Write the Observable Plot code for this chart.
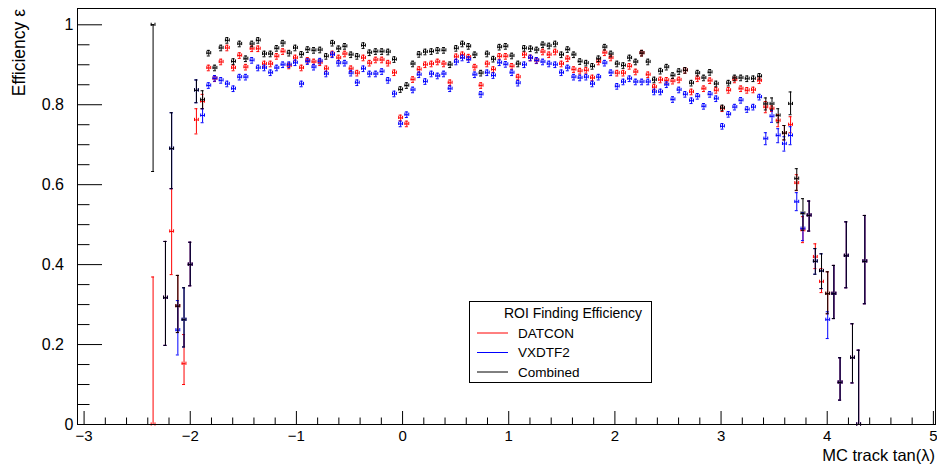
<!DOCTYPE html>
<html><head><meta charset="utf-8">
<script src="https://cdn.jsdelivr.net/npm/d3@7"></script>
<script src="https://cdn.jsdelivr.net/npm/@observablehq/plot@0.6"></script>
<style>body{margin:0;background:#fff;} svg{display:block}</style>
</head><body><div id="chart"></div>
<script>
// Histogram binning of MC track tan(lambda)
const binStart = -2.35, binWidth = 0.0583;

// Efficiencies per bin (null = empty bin)
const combined = [
 1.0, null, 0.317, 0.69, 0.296, 0.262, 0.40, 0.836, 0.8125, 0.929,
 0.892, 0.942, 0.961, 0.908, 0.952, 0.915, 0.952, 0.961, 0.927, 0.927,
 0.941, 0.954, 0.929, 0.942, 0.926, 0.938, 0.936, 0.937, 0.921, 0.954,
 0.94, 0.946, 0.925, 0.921, 0.948, 0.93, 0.933, 0.933, 0.932, 0.913,
 0.838, 0.848, 0.902, 0.926, 0.932, 0.933, 0.936, 0.936, 0.9, 0.941,
 0.952, 0.946, 0.925, 0.879, 0.927, 0.914, 0.944, 0.946, 0.922, 0.902,
 0.941, 0.94, 0.937, 0.95, 0.947, 0.952, 0.925, 0.938, 0.925, 0.908,
 0.904, 0.896, 0.915, 0.944, 0.927, 0.902, 0.898, 0.917, 0.907, 0.929,
 0.907, 0.862, 0.884, 0.894, 0.873, 0.883, 0.886, 0.854, 0.879, 0.867,
 0.881, 0.852, 0.792, 0.854, 0.867, 0.867, 0.865, 0.865, 0.871, 0.802,
 0.802, 0.773, 0.729, 0.802, 0.615, 0.528, 0.523, 0.408, 0.384, 0.327,
 0.327, 0.105, 0.422, 0.167, 0.0, 0.408
];
const datcon = [
 0.0, null, 0.317, 0.483, 0.296, 0.152, 0.40, 0.762, 0.808, 0.892,
 0.865, 0.907, 0.942, 0.892, 0.923, 0.894, 0.94, 0.94, 0.902, 0.902,
 0.921, 0.933, 0.897, 0.917, 0.892, 0.911, 0.907, 0.905, 0.89, 0.927,
 0.917, 0.927, 0.89, 0.879, 0.917, 0.904, 0.912, 0.912, 0.904, 0.88,
 0.767, 0.752, 0.863, 0.888, 0.9, 0.902, 0.907, 0.902, 0.855, 0.92,
 0.925, 0.919, 0.894, 0.848, 0.902, 0.888, 0.921, 0.921, 0.896, 0.869,
 0.925, 0.917, 0.91, 0.932, 0.925, 0.932, 0.902, 0.915, 0.888, 0.884,
 0.886, 0.867, 0.907, 0.93, 0.917, 0.879, 0.879, 0.896, 0.882, 0.929,
 0.875, 0.844, 0.862, 0.861, 0.859, 0.862, 0.886, 0.832, 0.865, 0.84,
 0.86, 0.836, 0.79, 0.836, 0.862, 0.84, 0.836, 0.837, 0.86, 0.794,
 0.79, 0.76, 0.729, 0.75, 0.604, 0.486, 0.523, 0.419, 0.357, 0.327,
 0.327, 0.105, 0.422, 0.167, 0.0, 0.408
];
const vxdtf2 = [
 null, null, 0.317, 0.69, 0.236, 0.262, 0.40, 0.836, 0.773, 0.848,
 0.866, 0.861, 0.852, 0.84, 0.869, 0.869, 0.911, 0.892, 0.892, 0.88,
 0.892, 0.90, 0.90, 0.905, 0.852, 0.908, 0.894, 0.909, 0.877, 0.925,
 0.904, 0.904, 0.879, 0.855, 0.89, 0.877, 0.877, 0.883, 0.861, 0.827,
 0.752, 0.775, 0.837, 0.875, 0.858, 0.877, 0.872, 0.877, 0.84, 0.907,
 0.917, 0.913, 0.875, 0.826, 0.88, 0.873, 0.905, 0.901, 0.88, 0.854,
 0.9, 0.917, 0.911, 0.907, 0.902, 0.9, 0.88, 0.892, 0.869, 0.867,
 0.869, 0.852, 0.869, 0.904, 0.88, 0.846, 0.857, 0.865, 0.857, 0.857,
 0.857, 0.832, 0.832, 0.85, 0.813, 0.837, 0.826, 0.81, 0.821, 0.796,
 0.826, 0.815, 0.746, 0.776, 0.794, 0.811, 0.788, 0.794, 0.819, 0.715,
 0.771, 0.723, 0.702, 0.723, 0.557, 0.49, 0.523, 0.408, 0.384, 0.262,
 0.327, 0.105, 0.422, 0.167, 0.0, 0.408
];

// Asymmetric error bar ends: [bin, low, high]
const combinedErr = [
 [0,0.633,1.0],[2,0.198,0.458],[3,0.59,0.78],[4,0.23,0.373],[5,0.194,0.342],[6,0.347,0.456],
 [7,0.805,0.862],[8,0.79,0.835],[99,0.787,0.817],[100,0.787,0.817],[101,0.755,0.79],
 [102,0.712,0.748],[103,0.775,0.832],[104,0.586,0.64],[105,0.486,0.565],[106,0.484,0.559],
 [107,0.376,0.44],[108,0.34,0.427],[109,0.277,0.382],[110,0.265,0.398],[111,0.061,0.167],
 [112,0.342,0.507],[113,0.104,0.252],[114,0,0.186],[115,0.302,0.523]
];
const datconErr = [
 [0,0,0.369],[3,0.375,0.59],[5,0.10,0.225],[7,0.727,0.79],[8,0.79,0.826],[99,0.78,0.808],
 [101,0.745,0.775],[103,0.73,0.77],[104,0.585,0.625],[105,0.455,0.52],[107,0.39,0.452],[108,0.33,0.39]
];
const vxdtf2Err = [
 [4,0.174,0.31],[8,0.755,0.79],[99,0.7,0.73],[100,0.756,0.786],[101,0.705,0.74],[102,0.684,0.72],
 [103,0.70,0.745],[104,0.535,0.58],[105,0.46,0.53],[109,0.215,0.282]
];
const defaultErr = 0.007;
const xErr = 0.018;

const seriesNames = ["DATCON", "VXDTF2", "Combined"];
const seriesColors = ["#ff0000", "#0000ff", "#000000"];

const xMajor = [-3, -2, -1, 0, 1, 2, 3, 4, 5];
const yMajor = [0, 0.2, 0.4, 0.6, 0.8, 1];

// ---- build ----
const combErrMap = new Map(combinedErr.map(d => [d[0], [d[1], d[2]]]));
function build(name, color, vals, errs) {
  const em = new Map(errs.map(d => [d[0], [d[1], d[2]]]));
  const out = [];
  vals.forEach((v, i) => {
    if (v == null) return;
    let e = em.get(i);
    if (!e && v === combined[i] && combErrMap.has(i)) e = combErrMap.get(i);
    if (!e) e = [Math.max(0, v - defaultErr), v + defaultErr];
    out.push({name, color, x: binStart + i * binWidth, y: v, lo: e[0], hi: e[1]});
  });
  return out;
}
const data = [
  build("DATCON", seriesColors[0], datcon, datconErr),
  build("VXDTF2", seriesColors[1], vxdtf2, vxdtf2Err),
  build("Combined", seriesColors[2], combined, combinedErr)
];

const W = 937, H = 464, mL = 77, mR = 2, mT = 8, mB = 40;
const xDomain = [-3.062, 5.02], yDomain = [0, 1.0408];
const pxX = (W - mL - mR) / (xDomain[1] - xDomain[0]);
const pxY = (H - mT - mB) / (yDomain[1] - yDomain[0]);
const capX = 1.5 / pxX, capY = 1.6 / pxY;

const xMinor = d3.range(-3, 5.001, 0.2).map(v => +v.toFixed(2)).filter(v => !xMajor.includes(v));
const yMinor = d3.range(0, 1.0001, 0.05).map(v => +v.toFixed(2)).filter(v => !yMajor.includes(v));

const marks = [];
for (const s of data) {
  const c = s[0] ? s[0].color : "#000";
  marks.push(
    Plot.ruleX(s, {x: "x", y1: "lo", y2: "hi", stroke: c, strokeWidth: 1}),
    Plot.ruleY(s, {y: "lo", x1: d => d.x - capX, x2: d => d.x + capX, stroke: c}),
    Plot.ruleY(s, {y: "hi", x1: d => d.x - capX, x2: d => d.x + capX, stroke: c}),
    Plot.ruleY(s, {y: "y", x1: d => d.x - xErr, x2: d => d.x + xErr, stroke: c}),
    Plot.ruleX(s, {x: d => d.x - xErr, y1: d => d.y - capY, y2: d => d.y + capY, stroke: c}),
    Plot.ruleX(s, {x: d => d.x + xErr, y1: d => d.y - capY, y2: d => d.y + capY, stroke: c})
  );
}

const font = "'Liberation Sans', Arial, Helvetica, sans-serif";
const fmt = d => String(d);
const chart = Plot.plot({
  width: W, height: H,
  marginLeft: mL, marginRight: mR, marginTop: mT, marginBottom: mB,
  x: {domain: xDomain},
  y: {domain: yDomain},
  style: {fontFamily: font, fontSize: "16px", color: "#000", background: "#fff"},
  marks: [
    // inward ticks, ROOT style
    Plot.ruleX(xMajor, {x: d => d, y1: 0, y2: 13 / pxY, stroke: "#000"}),
    Plot.ruleX(xMinor, {x: d => d, y1: 0, y2: 6.5 / pxY, stroke: "#000"}),
    Plot.ruleY(yMajor, {y: d => d, x1: xDomain[0], x2: xDomain[0] + 25 / pxX, stroke: "#000"}),
    Plot.ruleY(yMinor, {y: d => d, x1: xDomain[0], x2: xDomain[0] + 12.5 / pxX, stroke: "#000"}),
    Plot.axisX({ticks: xMajor, tickSize: 0, tickPadding: 6, label: null, fontSize: 15}),
    Plot.axisY({ticks: [0, 1], tickFormat: fmt, tickSize: 0, tickPadding: 4, label: null, fontSize: 16}),
    Plot.axisY({ticks: [0.2, 0.4, 0.6, 0.8], tickFormat: fmt, tickSize: 0, tickPadding: 13.5, label: null, fontSize: 16}),
    ...marks,
    Plot.frame({stroke: "#000"})
  ]
});
document.getElementById("chart").append(chart);

// Axis titles and legend (layout only)
const svg = d3.select(chart);
svg.append("text").attr("transform", "translate(24.5,9) rotate(-90)")
  .attr("text-anchor", "end").attr("font-family", font).attr("font-size", 17.5)
  .attr("fill", "#000").text("Efficiency ε");
svg.append("text").attr("x", 935).attr("y", 461)
  .attr("text-anchor", "end").attr("font-family", font).attr("font-size", 16.5)
  .attr("fill", "#000").text("MC track tan(λ)");

const lg = svg.append("g").attr("font-family", font).attr("font-size", 13).attr("fill", "#000");
lg.append("rect").attr("x", 469.5).attr("y", 301.5).attr("width", 182).attr("height", 81)
  .attr("fill", "#fff").attr("stroke", "#000").attr("stroke-width", 1);
lg.append("text").attr("x", 573).attr("y", 313).attr("dy", "0.35em")
  .attr("text-anchor", "middle").attr("font-size", 14).text("ROI Finding Efficiency");
seriesNames.forEach((n, k) => {
  const yy = 333 + k * 19.5;
  lg.append("line").attr("x1", 477).attr("x2", 508).attr("y1", yy).attr("y2", yy)
    .attr("stroke", seriesColors[k]).attr("stroke-width", 1);
  lg.append("text").attr("x", 518).attr("y", yy).attr("dy", "0.35em")
    .attr("text-anchor", "start").attr("font-size", 13.5).text(n);
});
</script>
</body></html>
